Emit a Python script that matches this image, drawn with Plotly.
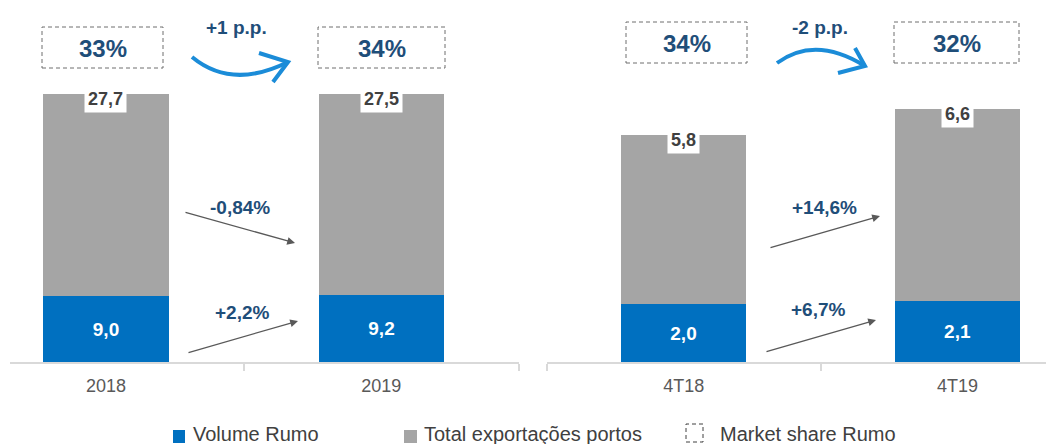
import plotly.graph_objects as go
from plotly.subplots import make_subplots

# ---- data ----
years = ["2018", "2019"]
rumo_annual = [9.0, 9.2]
ports_annual = [27.7, 27.5]
share_annual = ["33%", "34%"]
share_change_annual = "+1 p.p."
ports_change_annual = "-0,84%"
rumo_change_annual = "+2,2%"

quarters = ["4T18", "4T19"]
rumo_q = [2.0, 2.1]
ports_q = [5.8, 6.6]
share_q = ["34%", "32%"]
share_change_q = "-2 p.p."
ports_change_q = "+14,6%"
rumo_change_q = "+6,7%"

legend_labels = ["Volume Rumo", "Total exportações portos", "Market share Rumo"]

# ---- styles ----
W, H = 1046, 444
BLUE = "#0070C0"
GRAY = "#A5A5A5"
NAVY = "#1F4E79"
ARROW_BLUE = "#1B8CD8"
FONT = "Liberation Sans, Arial, sans-serif"


def px(x):
    return x / W


def py(y):
    return 1 - y / H


def fmt(v):
    return f"{v:.1f}".replace(".", ",")


fig = make_subplots(rows=1, cols=2)

panels = [
    (1, years, rumo_annual, ports_annual),
    (2, quarters, rumo_q, ports_q),
]
for col, cats, rumo, ports in panels:
    xs = list(range(len(cats)))
    fig.add_trace(go.Bar(
        x=xs, y=rumo, width=0.456, marker_color=BLUE, marker_line_width=0,
        text=[fmt(v) for v in rumo], textposition="inside", insidetextanchor="middle",
        textangle=0, constraintext="none",
        textfont=dict(family=FONT, size=19, color="white", weight="bold"),
        hoverinfo="skip",
    ), row=1, col=col)
    fig.add_trace(go.Bar(
        x=xs, y=ports, width=0.456, marker_color=GRAY, marker_line_width=0,
        hoverinfo="skip",
    ), row=1, col=col)
    xref = "x" if col == 1 else "x2"
    yref = "y" if col == 1 else "y2"
    for xi, r, p in zip(xs, rumo, ports):
        fig.add_annotation(
            x=xi, y=r + p, xref=xref, yref=yref, text=fmt(p), showarrow=False,
            xanchor="center", yanchor="middle", yshift=-5, bgcolor="white", borderpad=3,
            font=dict(family=FONT, size=18, color="#404040", weight="bold"),
        )

fig.update_layout(
    barmode="stack", width=W, height=H, margin=dict(l=0, r=0, t=0, b=0),
    plot_bgcolor="white", paper_bgcolor="white", showlegend=False,
    bargap=0,
)

axis_common = dict(
    showgrid=False, zeroline=False, showline=True, linecolor="#D9D9D9", linewidth=1.5,
    ticks="", tickfont=dict(family=FONT, size=18, color="#595959"),
    ticklabelstandoff=7,
)
fig.update_xaxes(
    domain=[px(10), px(519)], range=[(10 - 106) / 275.5, 1.5],
    tickvals=[0, 1], ticktext=years,
    minor=dict(tickvals=[0.5, 1.5], ticks="outside", ticklen=7, tickcolor="#D9D9D9", tickwidth=1.5),
    **axis_common, row=1, col=1,
)
fig.update_xaxes(
    domain=[px(547), 1.0], range=[-0.5, (1046 - 684) / 273.5],
    tickvals=[0, 1], ticktext=quarters,
    minor=dict(tickvals=[-0.5, 0.5], ticks="outside", ticklen=7, tickcolor="#D9D9D9", tickwidth=1.5),
    **axis_common, row=1, col=2,
)
fig.update_yaxes(domain=[py(362), 1.0], range=[0, 362 / 7.30], visible=False, row=1, col=1)
fig.update_yaxes(domain=[py(362), 1.0], range=[0, 362 / 29.1], visible=False, row=1, col=2)


def note(x, y, text, size, color, bold=True, xanchor="center"):
    fig.add_annotation(x=px(x), y=py(y), xref="paper", yref="paper", text=text,
                       showarrow=False, xanchor=xanchor, yanchor="middle",
                       font=dict(family=FONT, size=size, color=color,
                                 weight="bold" if bold else "normal"))


# ---- market share boxes ----
boxes = [
    (42, 163, 27, 68, share_annual[0]),
    (318, 445, 27, 68, share_annual[1]),
    (626, 747, 22, 63, share_q[0]),
    (894, 1019, 22, 63, share_q[1]),
]
for x0, x1, y0, y1, label in boxes:
    fig.add_shape(type="rect", xref="paper", yref="paper",
                  x0=px(x0), x1=px(x1), y0=py(y1), y1=py(y0),
                  line=dict(color="#6F6F6F", width=1, dash="4px,3px"))
    note((x0 + x1) / 2, (y0 + y1) / 2 + 1, label, 24, NAVY)


# ---- curved arrows ----
def curve(p0, c, p1, head_a, head_b):
    d = f"M {px(p0[0])},{py(p0[1])} Q {px(c[0])},{py(c[1])} {px(p1[0])},{py(p1[1])}"
    fig.add_shape(type="path", xref="paper", yref="paper", path=d,
                  line=dict(color=ARROW_BLUE, width=4))
    d2 = (f"M {px(head_a[0])},{py(head_a[1])} L {px(p1[0])},{py(p1[1])} "
          f"L {px(head_b[0])},{py(head_b[1])}")
    fig.add_shape(type="path", xref="paper", yref="paper", path=d2,
                  line=dict(color=ARROW_BLUE, width=4))


curve((192, 57), (232, 90), (288, 62), (259, 53), (273, 82))
curve((777, 63), (815, 35), (865, 66), (855, 48), (838, 73))

note(236, 27, share_change_annual, 19, NAVY)
note(820, 27, share_change_q, 19, NAVY)

# ---- gray growth arrows ----
arrows = [
    ((184, 212), (295, 243), (240, 207), ports_change_annual),
    ((187, 353), (298, 321), (242, 312), rumo_change_annual),
    ((769, 248), (880, 216), (824, 207), ports_change_q),
    ((765, 352), (876, 320), (818, 309), rumo_change_q),
]
for tail, head, lab, text in arrows:
    fig.add_annotation(x=px(head[0]), y=py(head[1]), xref="paper", yref="paper",
                       ax=tail[0] - head[0], ay=tail[1] - head[1], text="",
                       showarrow=True, arrowhead=2, arrowsize=1.2, arrowwidth=1.3,
                       arrowcolor="#595959")
    note(lab[0], lab[1], text, 19, NAVY)

# ---- legend ----
legend_items = [
    ("square", BLUE, 173, 185, 430, 443, 191, legend_labels[0]),
    ("square", GRAY, 404, 417, 430, 443, 422, legend_labels[1]),
    ("dash", None, 686, 703, 424, 442, 718, legend_labels[2]),
]
for kind, color, x0, x1, y0, y1, tx, label in legend_items:
    if kind == "square":
        fig.add_shape(type="rect", xref="paper", yref="paper",
                      x0=px(x0), x1=px(x1), y0=py(y1), y1=py(y0),
                      fillcolor=color, line=dict(width=0))
    else:
        fig.add_shape(type="rect", xref="paper", yref="paper",
                      x0=px(x0), x1=px(x1), y0=py(y1), y1=py(y0),
                      line=dict(color="#404040", width=1, dash="4px,3px"))
    note(tx, 434, label, 20, "#404040", bold=False, xanchor="left")

fig.write_html("out.html", config={"displayModeBar": False},
               post_script="document.body.style.margin='0';")
